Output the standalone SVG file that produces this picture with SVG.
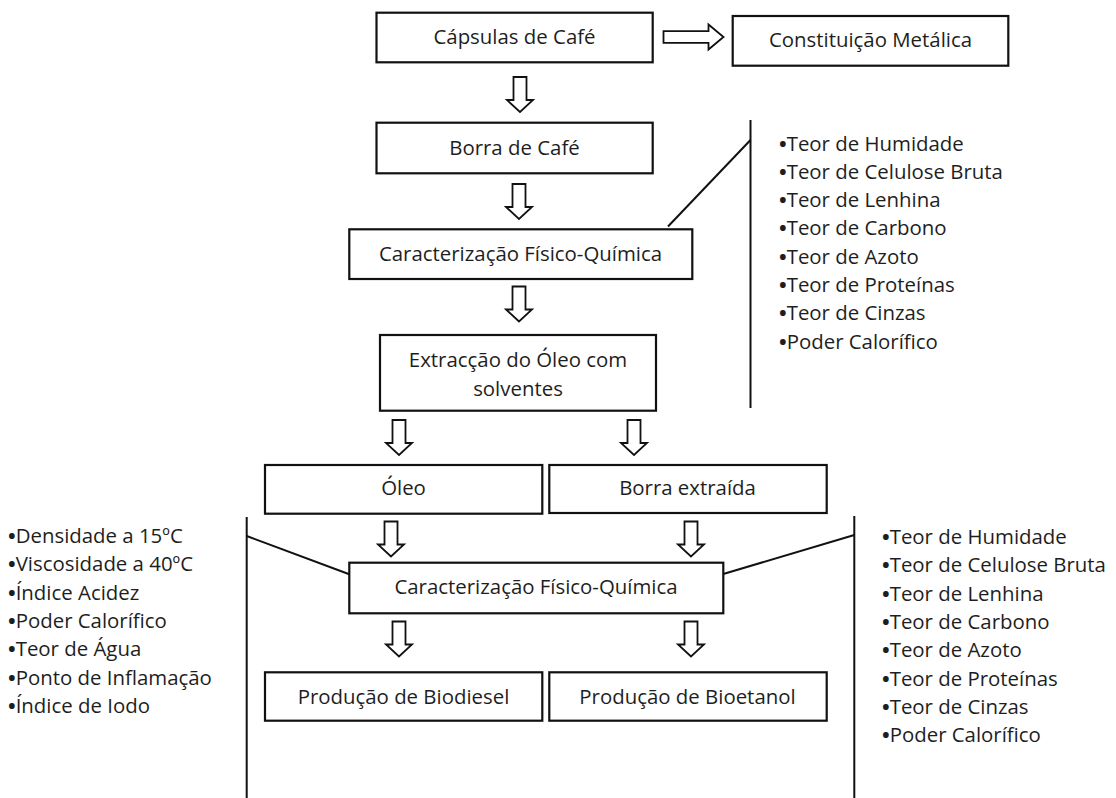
<svg xmlns="http://www.w3.org/2000/svg" xmlns:xlink="http://www.w3.org/1999/xlink" width="1116" height="798" viewBox="0 0 1116 798">
<defs>
<style>
.box{fill:#fff;stroke:#111;stroke-width:2.2}
.ln{stroke:#111;stroke-width:2;fill:none}
.arr{fill:#fff;stroke:#111;stroke-width:1.8;stroke-linejoin:miter}
.t{font-family:"Open Sans","Noto Sans",sans-serif;font-size:20.4px;fill:#1e1e1e}
.c{text-anchor:middle}
.b{font-weight:bold}
</style>
<path id="down" d="M-6.5,0 L6.5,0 L6.5,23 L13,23 L0,35 L-13,23 L-6.5,23 Z"/>
</defs>
<rect width="1116" height="798" fill="#fff"/>

<g id="connectors">
<use xlink:href="#down" href="#down" class="arr" x="520" y="77"/>
<use xlink:href="#down" href="#down" class="arr" x="519" y="184"/>
<use xlink:href="#down" href="#down" class="arr" x="519" y="286.5"/>
<use xlink:href="#down" href="#down" class="arr" x="399" y="420"/>
<use xlink:href="#down" href="#down" class="arr" x="634" y="420"/>
<use xlink:href="#down" href="#down" class="arr" x="391" y="521.5"/>
<use xlink:href="#down" href="#down" class="arr" x="691" y="521.5"/>
<use xlink:href="#down" href="#down" class="arr" x="399" y="621.5"/>
<use xlink:href="#down" href="#down" class="arr" x="691" y="621.5"/>
<path class="arr" d="M663.5,31.2 L708.5,31.2 L708.5,24.5 L723.5,37 L708.5,49.5 L708.5,42.8 L663.5,42.8 Z"/>
<line class="ln" x1="750.5" y1="120" x2="750.5" y2="408"/>
<line class="ln" x1="668" y1="226.5" x2="750.5" y2="140"/>
<line class="ln" x1="246.7" y1="517" x2="246.7" y2="798"/>
<line class="ln" x1="246.7" y1="536" x2="349.3" y2="574.3"/>
<line class="ln" x1="854.3" y1="516" x2="854.3" y2="798"/>
<line class="ln" x1="723.3" y1="574" x2="854.3" y2="535"/>
</g>

<g id="capsulas">
<rect class="box" x="376.5" y="12.7" width="276.2" height="49.6"/>
<text class="t c" x="514.5" y="44">Cápsulas de Café</text>
</g>
<g id="constituicao">
<rect class="box" x="732.7" y="16" width="275.6" height="49.7"/>
<text class="t c" x="870.5" y="46.5">Constituição Metálica</text>
</g>
<g id="borra">
<rect class="box" x="376.5" y="122.7" width="276.2" height="50.6"/>
<text class="t c" x="514.5" y="155">Borra de Café</text>
</g>
<g id="caracterizacao1">
<rect class="box" x="349.3" y="229.3" width="343" height="49.7"/>
<text class="t c" x="520.5" y="260.5">Caracterização Físico-Química</text>
</g>
<g id="extraccao">
<rect class="box" x="380" y="335" width="276" height="75.7"/>
<text class="t c" x="518" y="366.5">Extracção do Óleo com</text>
<text class="t c" x="518" y="395.5">solventes</text>
</g>
<g id="oleo">
<rect class="box" x="265" y="465" width="277.3" height="48.7"/>
<text class="t c" x="403.5" y="495">Óleo</text>
</g>
<g id="borra-extraida">
<rect class="box" x="549.3" y="465" width="277.4" height="48"/>
<text class="t c" x="687.5" y="494.5">Borra extraída</text>
</g>
<g id="caracterizacao2">
<rect class="box" x="349.3" y="562.7" width="374" height="50.6"/>
<text class="t c" x="536" y="593.5">Caracterização Físico-Química</text>
</g>
<g id="biodiesel">
<rect class="box" x="265" y="672.3" width="277.3" height="48.4"/>
<text class="t c" x="403.5" y="703.5">Produção de Biodiesel</text>
</g>
<g id="bioetanol">
<rect class="box" x="549.3" y="672.3" width="277.4" height="48.4"/>
<text class="t c" x="687.5" y="703.5">Produção de Bioetanol</text>
</g>

<g id="lista-borra">
<text class="t" x="779" y="150.5"><tspan class="b">•</tspan>Teor de Humidade</text>
<text class="t" x="779" y="178.8"><tspan class="b">•</tspan>Teor de Celulose Bruta</text>
<text class="t" x="779" y="207.1"><tspan class="b">•</tspan>Teor de Lenhina</text>
<text class="t" x="779" y="235.4"><tspan class="b">•</tspan>Teor de Carbono</text>
<text class="t" x="779" y="263.7"><tspan class="b">•</tspan>Teor de Azoto</text>
<text class="t" x="779" y="292"><tspan class="b">•</tspan>Teor de Proteínas</text>
<text class="t" x="779" y="320.3"><tspan class="b">•</tspan>Teor de Cinzas</text>
<text class="t" x="779" y="348.6"><tspan class="b">•</tspan>Poder Calorífico</text>
</g>
<g id="lista-oleo">
<text class="t" x="8" y="543"><tspan class="b">•</tspan>Densidade a 15ºC</text>
<text class="t" x="8" y="571.3"><tspan class="b">•</tspan>Viscosidade a 40ºC</text>
<text class="t" x="8" y="599.6"><tspan class="b">•</tspan>Índice Acidez</text>
<text class="t" x="8" y="627.9"><tspan class="b">•</tspan>Poder Calorífico</text>
<text class="t" x="8" y="656.2"><tspan class="b">•</tspan>Teor de Água</text>
<text class="t" x="8" y="684.5"><tspan class="b">•</tspan>Ponto de Inflamação</text>
<text class="t" x="8" y="712.8"><tspan class="b">•</tspan>Índice de Iodo</text>
</g>
<g id="lista-borra-extraida">
<text class="t" x="882" y="544"><tspan class="b">•</tspan>Teor de Humidade</text>
<text class="t" x="882" y="572.3"><tspan class="b">•</tspan>Teor de Celulose Bruta</text>
<text class="t" x="882" y="600.6"><tspan class="b">•</tspan>Teor de Lenhina</text>
<text class="t" x="882" y="628.9"><tspan class="b">•</tspan>Teor de Carbono</text>
<text class="t" x="882" y="657.2"><tspan class="b">•</tspan>Teor de Azoto</text>
<text class="t" x="882" y="685.5"><tspan class="b">•</tspan>Teor de Proteínas</text>
<text class="t" x="882" y="713.8"><tspan class="b">•</tspan>Teor de Cinzas</text>
<text class="t" x="882" y="742.1"><tspan class="b">•</tspan>Poder Calorífico</text>
</g>
</svg>
